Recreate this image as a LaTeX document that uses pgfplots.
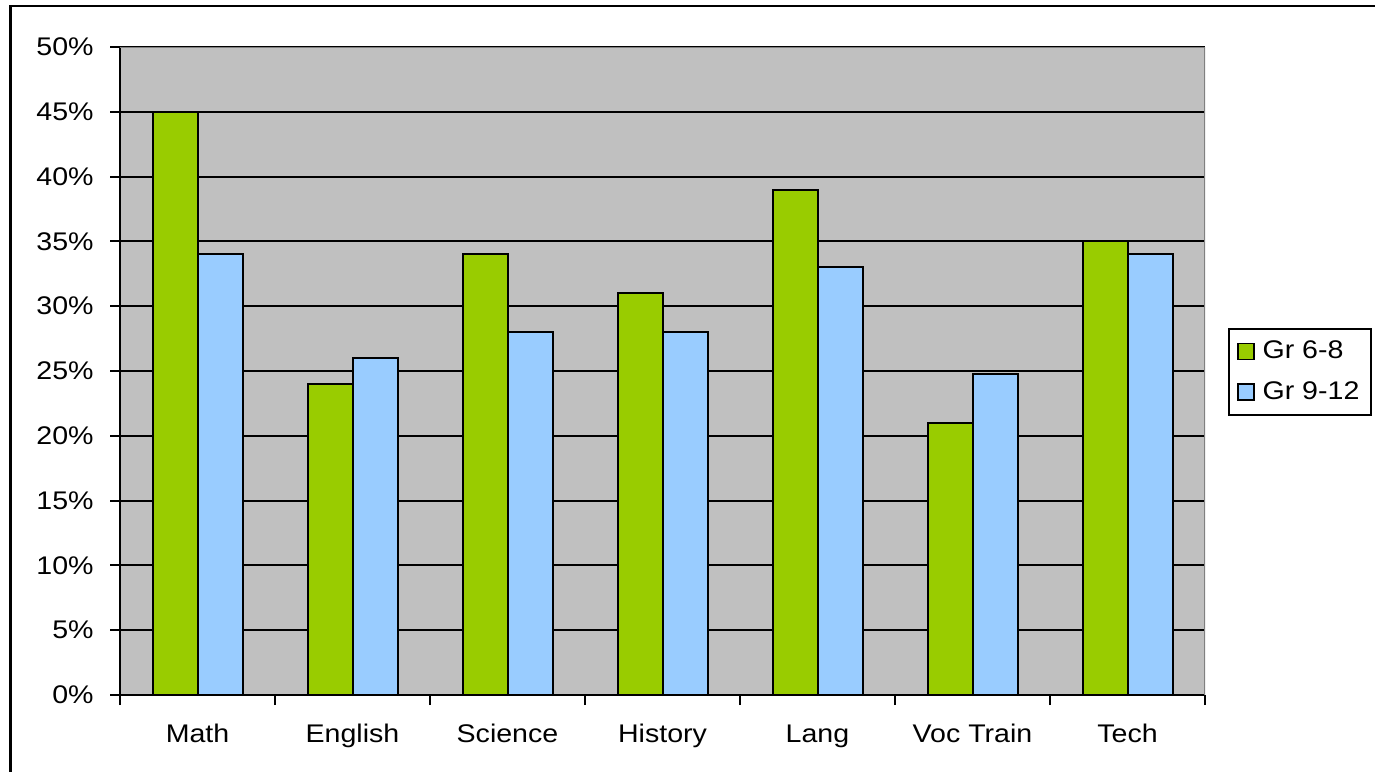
\documentclass[border=0pt]{standalone}
\usepackage{fontspec}
\setmainfont{Liberation Sans}[FakeStretch=1.12]
\usepackage{pgfplots}
\pgfplotsset{compat=1.18}
\definecolor{grgreen}{HTML}{99CC00}
\definecolor{grblue}{HTML}{99CCFF}
\definecolor{plotgray}{HTML}{C0C0C0}
\definecolor{edgegray}{HTML}{808080}
\begin{document}
\begin{tikzpicture}
\useasboundingbox (0,0) rectangle (687.5pt,-385.5pt);
\draw[line width=1.3pt] (5.15pt,-386pt) -- (5.15pt,-3pt) -- (688pt,-3pt);
\begin{axis}[
  at={(60pt,-347.5pt)}, anchor=south west,
  scale only axis, width=542.5pt, height=324pt,
  ybar=0pt, bar width=22.5pt,
  xmin=-0.5, xmax=6.5, ymin=0, ymax=50,
  enlarge x limits=false,
  axis x line=bottom, axis y line=left,
  axis line style={-, line width=1pt, black},
  axis background/.style={fill=plotgray},
  xtick={0,...,6},
  xticklabels={Math,English,Science,History,Lang,Voc Train,Tech},
  minor xtick={-0.5,0.5,...,6.5},
  ytick={0,5,...,50},
  yticklabels={0\%,5\%,10\%,15\%,20\%,25\%,30\%,35\%,40\%,45\%,50\%},
  tick align=outside,
  major tick length=5pt, minor tick length=5pt,
  x tick style={draw=none},
  minor x tick style={draw=black, line width=1pt},
  y tick style={line width=1pt, black},
  ymajorgrids, grid style={black, line width=1pt},
  tick label style={font=\fontsize{12.75}{15}\selectfont, inner sep=0pt},
  yticklabel style={anchor=east, xshift=-8pt},
  xticklabel style={anchor=base, yshift=-18.5pt},
  legend style={at={(1.0212,0.5664)}, anchor=north west, draw=black, line width=1pt,
    font=\fontsize{12.75}{15}\selectfont, inner xsep=4pt, inner ysep=4pt,
    row sep=6pt, fill=white},
  legend cell align=left,
  legend image code/.code={\draw[#1, line width=0.8pt] (0pt,-4pt) rectangle (8pt,4pt);},
  /tikz/every odd column/.append style={column sep=2pt},
]
\addplot[fill=grgreen, draw=black, line width=1pt] coordinates {(0,45) (1,24) (2,34) (3,31) (4,39) (5,21) (6,35)};
\addplot[fill=grblue, draw=black, line width=1pt] coordinates {(0,34) (1,26) (2,28) (3,28) (4,33) (5,24.8) (6,34)};
\legend{Gr 6-8, Gr 9-12}
\draw[edgegray, line width=1pt] (rel axis cs:0,1) -- (rel axis cs:1,1) -- (rel axis cs:1,0);
\end{axis}
\end{tikzpicture}
\end{document}
